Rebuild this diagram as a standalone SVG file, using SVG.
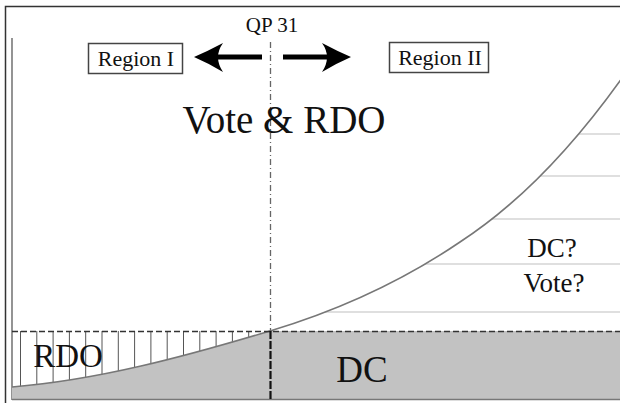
<svg xmlns="http://www.w3.org/2000/svg" width="620" height="403" viewBox="0 0 620 403">
  <style>
    .box { fill: #fff; stroke: #444; stroke-width: 1.5; }
    .hatch { stroke: #555; stroke-width: 1; }
    .grid { stroke: #d4d4d4; stroke-width: 1.5; }
    .curve { fill: none; stroke: #777; stroke-width: 1.6; }
    .arrow { fill: #000; }
  </style>
  <defs>
    <!-- area to the right of (below) the rate curve, above the DC threshold -->
    <clipPath id="rightOfCurve">
      <path d="M270,331 C333.3,312 396.7,285 460,242 C514,206.9 568,153.6 622,78 L625,78 L625,331 Z"/>
    </clipPath>
  </defs>

  <rect width="620" height="403" fill="#fff"/>

  <!-- frame and axes -->
  <g id="frame">
    <path d="M5.5,403 V6.5 H620" fill="none" stroke="#333" stroke-width="1.5"/>
    <line x1="12" y1="38" x2="12" y2="400" stroke="#888" stroke-width="1.8"/>
  </g>

  <!-- light horizontal lines in region II -->
  <g id="region2-lines" clip-path="url(#rightOfCurve)">
    <line class="grid" x1="260" y1="134" x2="620" y2="134"/>
    <line class="grid" x1="260" y1="176" x2="620" y2="176"/>
    <line class="grid" x1="260" y1="219" x2="620" y2="219"/>
    <line class="grid" x1="260" y1="264" x2="620" y2="264"/>
    <line class="grid" x1="260" y1="312" x2="620" y2="312"/>
  </g>

  <!-- vertical hatching of the RDO zone -->
  <g id="rdo-hatch">
    <line class="hatch" x1="20.5" y1="331" x2="20.5" y2="399"/>
    <line class="hatch" x1="36.8" y1="331" x2="36.8" y2="399"/>
    <line class="hatch" x1="53.1" y1="331" x2="53.1" y2="399"/>
    <line class="hatch" x1="69.4" y1="331" x2="69.4" y2="399"/>
    <line class="hatch" x1="85.7" y1="331" x2="85.7" y2="399"/>
    <line class="hatch" x1="102" y1="331" x2="102" y2="399"/>
    <line class="hatch" x1="118.3" y1="331" x2="118.3" y2="399"/>
    <line class="hatch" x1="134.6" y1="331" x2="134.6" y2="399"/>
    <line class="hatch" x1="150.9" y1="331" x2="150.9" y2="399"/>
    <line class="hatch" x1="167.2" y1="331" x2="167.2" y2="399"/>
    <line class="hatch" x1="183.5" y1="331" x2="183.5" y2="399"/>
    <line class="hatch" x1="199.8" y1="331" x2="199.8" y2="399"/>
    <line class="hatch" x1="216.1" y1="331" x2="216.1" y2="399"/>
    <line class="hatch" x1="232.4" y1="331" x2="232.4" y2="399"/>
    <line class="hatch" x1="248.7" y1="331" x2="248.7" y2="399"/>
    <line class="hatch" x1="265" y1="331" x2="265" y2="399"/>
  </g>

  <!-- grey DC area under the curve / threshold -->
  <g id="dc-area">
    <path d="M12,387 C98,380.1 184,356.8 270,331 L620,331 L620,399 L12,399 Z" fill="#c2c2c2"/>
    <line x1="12" y1="399.5" x2="620" y2="399.5" stroke="#777" stroke-width="1.5"/>
  </g>

  <!-- rate curve -->
  <g id="curve">
    <path class="curve" d="M12,387 C98,380.1 184,356.8 270,331 C333.3,312 396.7,285 460,242 C514,206.9 568,153.6 622,78"/>
  </g>

  <!-- connectors: threshold lines and direction arrows -->
  <g id="connectors">
    <line x1="12" y1="331.5" x2="620" y2="331.5" stroke="#333" stroke-width="1.5" stroke-dasharray="6 3"/>
    <line x1="270.5" y1="42" x2="270.5" y2="331" stroke="#666" stroke-width="1.3" stroke-dasharray="6 3 1 3"/>
    <line x1="270.5" y1="331" x2="270.5" y2="400" stroke="#111" stroke-width="2.2" stroke-dasharray="8 2"/>
    <rect class="arrow" x="208" y="54.5" width="54" height="5"/>
    <path class="arrow" d="M194,57 Q208,51 223,43 Q213,57 223,72 Q208,63 194,57 Z"/>
    <rect class="arrow" x="283" y="54.5" width="48" height="5"/>
    <path class="arrow" d="M351,57 Q337,51 322,43 Q332,57 322,72 Q337,63 351,57 Z"/>
  </g>

  <!-- labels, all in a Times-metric serif -->
  <g font-family="'Liberation Serif', 'DejaVu Serif', 'Noto Serif', serif" fill="#111">
    <g id="qp-label">
      <text x="272" y="32" font-size="21" text-anchor="middle">QP 31</text>
    </g>
    <g id="region1">
      <rect class="box" x="88.5" y="43.5" width="94" height="30"/>
      <text x="136" y="66" font-size="22" text-anchor="middle">Region I</text>
    </g>
    <g id="region2">
      <rect class="box" x="389.5" y="42.5" width="99" height="30"/>
      <text x="440" y="65" font-size="22" text-anchor="middle">Region II</text>
    </g>
    <g id="vote-rdo">
      <text x="284" y="133" font-size="39" text-anchor="middle">Vote &amp; RDO</text>
    </g>
    <g id="dc-vote">
      <text x="552" y="257" font-size="27" text-anchor="middle">DC?</text>
      <text x="554" y="292" font-size="27" text-anchor="middle">Vote?</text>
    </g>
    <g id="rdo">
      <text x="68" y="367" font-size="33" text-anchor="middle">RDO</text>
    </g>
    <g id="dc">
      <text x="362" y="382" font-size="37" text-anchor="middle">DC</text>
    </g>
  </g>
</svg>
